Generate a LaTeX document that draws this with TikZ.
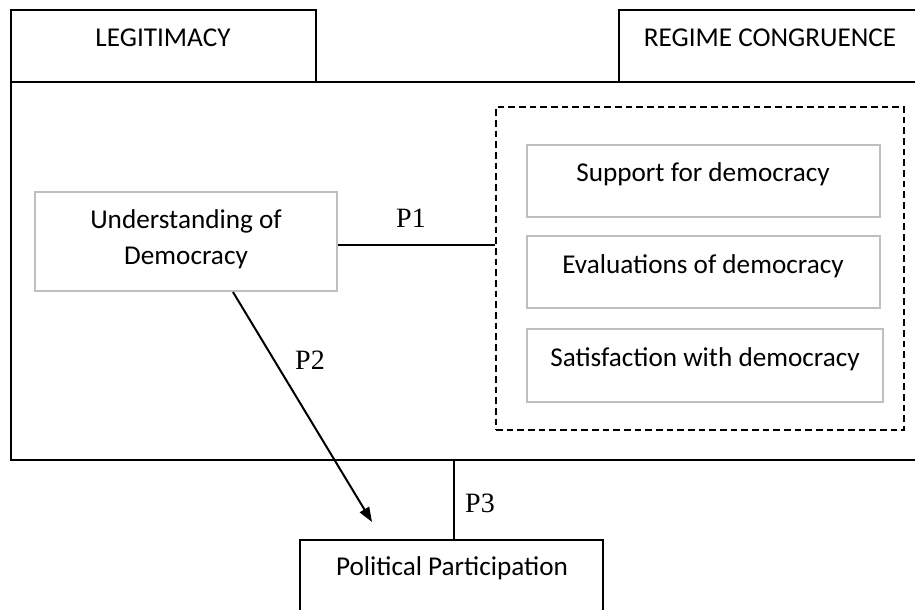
\documentclass[tikz,border=0pt]{standalone}
\usepackage{fontspec}
\setmainfont{Carlito}
\newfontfamily\tnr{Liberation Serif}
\usetikzlibrary{arrows.meta,fit}
\definecolor{boxgray}{RGB}{191,191,191}
\begin{document}
\begin{tikzpicture}[x=0.75pt,y=-0.75pt,
  blackbox/.style={draw=black,line width=1.5pt,inner sep=0pt},
  graybox/.style={draw=boxgray,line width=1.6pt,inner sep=0pt},
  dashbox/.style={draw=black,line width=1.5pt,dash pattern=on 5pt off 3pt,inner sep=0pt},
  lbl/.style={anchor=base,inner sep=0pt,align=center,font=\fontsize{20.4}{27}\selectfont},
  plbl/.style={anchor=base,inner sep=0pt,font=\tnr\fontsize{21}{25}\selectfont},
  conn/.style={draw=black,line width=1.5pt}]
\useasboundingbox (0,0) rectangle (915,610);
% frames
\node[blackbox,fit={(11,82) (925,460)}] (main) {};
\node[blackbox,fit={(11,10) (316,82)}] (leg) {};
\node[blackbox,fit={(619,10) (925,82)}] (reg) {};
\node[lbl] (legt) at (163,47) {LEGITIMACY};
\node[lbl] (regt) at (770,47) {REGIME CONGRUENCE};
% understanding
\node[graybox,fit={(35,192) (337,291)}] (ud) {};
\node[lbl] (udt) at (186,264) {Understanding of\\Democracy};
% dashed group
\node[dashbox,fit={(496,107) (904,430)}] (dash) {};
\node[graybox,fit={(527,145) (880,217)}] (sup) {};
\node[graybox,fit={(527,236) (880,308)}] (eval) {};
\node[graybox,fit={(527,329) (883,402)}] (sat) {};
\node[lbl] (supt) at (703,181) {Support for democracy};
\node[lbl] (evalt) at (703,273) {Evaluations of democracy};
\node[lbl] (satt) at (705,366) {Satisfaction with democracy};
% political participation
\node[blackbox,fit={(300,540) (603,630)}] (pp) {};
\node[lbl] (ppt) at (452,575) {Political Participation};
% connectors
\draw[conn] ([yshift=-2.6pt]ud.east) -- ([yshift=-2.6pt]ud.east -| dash.west);
\node[plbl] (p1) at (411,227) {P1};
\coordinate (tip) at (372,522);
\draw[conn,-{Triangle[length=11pt,width=8pt]}] ([xshift=35.25pt]ud.south) -- (tip);
\node[plbl] (p2) at (310,369) {P2};
\coordinate (p3top) at (454,460);
\draw[conn] (p3top) -- (p3top |- pp.north);
\node[plbl] (p3) at (480,512) {P3};
\end{tikzpicture}
\end{document}
